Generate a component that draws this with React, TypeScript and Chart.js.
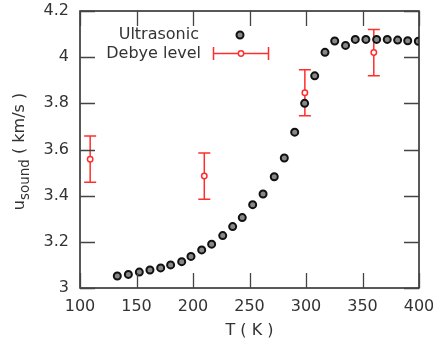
import React, { useEffect, useRef } from "react";
import { Chart, registerables } from "chart.js";

Chart.register(...registerables);

// Ultrasonic data
const ultraT = [133, 142.8, 152.5, 161.9, 171.4, 180.2, 190, 198.2, 207.7, 216.5, 226.3, 235.1, 243.6, 252.8, 262, 271.9, 280.8, 290, 298.8, 307.7, 316.8, 325.4, 335, 343.6, 353, 362.5, 371.9, 381.1, 390, 399.4];
const ultraU = [3.052, 3.059, 3.069, 3.078, 3.087, 3.1, 3.114, 3.137, 3.165, 3.19, 3.227, 3.266, 3.305, 3.361, 3.407, 3.482, 3.563, 3.675, 3.8, 3.919, 4.021, 4.07, 4.051, 4.077, 4.077, 4.077, 4.077, 4.074, 4.071, 4.069];

// Debye level data
const debyeT = [109, 210, 299, 360];
const debyeU = [3.558, 3.485, 3.846, 4.02];
const debyeErr = [0.1, 0.1, 0.1, 0.1];

const xTicks = [100, 150, 200, 250, 300, 350, 400];
const yTicks = [3, 3.2, 3.4, 3.6, 3.8, 4, 4.2];

const seriesNames = ["Ultrasonic", "Debye level"];
const xTitle = "T ( K )";
const yTitleMain = "u";
const yTitleSub = "sound";
const yTitleRest = " ( km/s )";

const FONT = "'DejaVu Sans', sans-serif";
const RED = "rgb(255,45,45)";
const TEXT = "#333";

export default function App() {
  const ref = useRef<HTMLCanvasElement | null>(null);

  useEffect(() => {
    if (!ref.current) return;

    const decor = {
      id: "decor",
      beforeDatasetsDraw(chart: any) {
        const ctx = chart.ctx;
        const xs = chart.scales.x;
        const ys = chart.scales.y;
        ctx.save();
        ctx.strokeStyle = RED;
        ctx.lineWidth = 1.5;
        debyeT.forEach((t, i) => {
          const px = xs.getPixelForValue(t);
          const top = ys.getPixelForValue(debyeU[i] + debyeErr[i]);
          const bot = ys.getPixelForValue(debyeU[i] - debyeErr[i]);
          ctx.beginPath();
          ctx.moveTo(px, top);
          ctx.lineTo(px, bot);
          ctx.moveTo(px - 6, top);
          ctx.lineTo(px + 6, top);
          ctx.moveTo(px - 6, bot);
          ctx.lineTo(px + 6, bot);
          ctx.stroke();
        });
        ctx.restore();
      },
      afterDraw(chart: any) {
        const ctx = chart.ctx;
        const a = chart.chartArea;
        const xs = chart.scales.x;
        const ys = chart.scales.y;
        ctx.save();
        // frame
        ctx.strokeStyle = "#222";
        ctx.lineWidth = 1.5;
        ctx.strokeRect(a.left, a.top, a.right - a.left, a.bottom - a.top);
        // inward ticks
        ctx.strokeStyle = "#444";
        ctx.lineWidth = 1.3;
        const L = 15;
        ctx.beginPath();
        xTicks.forEach((v) => {
          const px = Math.round(xs.getPixelForValue(v)) + 0.5;
          ctx.moveTo(px, a.bottom);
          ctx.lineTo(px, a.bottom - L);
          ctx.moveTo(px, a.top);
          ctx.lineTo(px, a.top + L);
        });
        yTicks.forEach((v) => {
          const py = Math.round(ys.getPixelForValue(v)) + 0.5;
          ctx.moveTo(a.left, py);
          ctx.lineTo(a.left + L, py);
          ctx.moveTo(a.right, py);
          ctx.lineTo(a.right - L, py);
        });
        ctx.stroke();

        // legend
        ctx.fillStyle = TEXT;
        ctx.font = `16px ${FONT}`;
        ctx.textAlign = "right";
        ctx.textBaseline = "middle";
        ctx.fillText(seriesNames[0], 199, 35);
        ctx.fillText(seriesNames[1], 201, 54);
        // ultrasonic marker
        ctx.beginPath();
        ctx.arc(240, 35, 3.5, 0, Math.PI * 2);
        ctx.fillStyle = "#888";
        ctx.fill();
        ctx.strokeStyle = "#111";
        ctx.lineWidth = 2;
        ctx.stroke();
        // debye marker with horizontal error bar
        ctx.strokeStyle = RED;
        ctx.lineWidth = 1.5;
        ctx.beginPath();
        ctx.moveTo(213.5, 53.5);
        ctx.lineTo(268.5, 53.5);
        ctx.moveTo(213.5, 47);
        ctx.lineTo(213.5, 60);
        ctx.moveTo(268.5, 47);
        ctx.lineTo(268.5, 60);
        ctx.stroke();
        ctx.beginPath();
        ctx.arc(241, 53.5, 2.7, 0, Math.PI * 2);
        ctx.fillStyle = "#fff";
        ctx.fill();
        ctx.stroke();

        // x title
        ctx.fillStyle = TEXT;
        ctx.font = `16px ${FONT}`;
        ctx.textAlign = "center";
        ctx.textBaseline = "middle";
        ctx.fillText(xTitle, (a.left + a.right) / 2, 331);

        // y title with subscript
        ctx.translate(23.5, (a.top + a.bottom) / 2 + 2);
        ctx.rotate(-Math.PI / 2);
        ctx.textAlign = "left";
        ctx.textBaseline = "alphabetic";
        const mainFont = `16px ${FONT}`;
        const subFont = `13.5px ${FONT}`;
        ctx.font = mainFont;
        const w1 = ctx.measureText(yTitleMain).width;
        const w3 = ctx.measureText(yTitleRest).width;
        ctx.font = subFont;
        const w2 = ctx.measureText(yTitleSub).width;
        let x0 = -(w1 + w2 + w3) / 2;
        ctx.font = mainFont;
        ctx.fillText(yTitleMain, x0, 0);
        x0 += w1;
        ctx.font = subFont;
        ctx.fillText(yTitleSub, x0, 5.5);
        x0 += w2;
        ctx.font = mainFont;
        ctx.fillText(yTitleRest, x0, 0);
        ctx.restore();
      },
    };

    const chart = new Chart(ref.current, {
      type: "scatter",
      data: {
        datasets: [
          {
            label: seriesNames[0],
            data: ultraT.map((t, i) => ({ x: t, y: ultraU[i] })),
            pointRadius: 3.5,
            pointHoverRadius: 3.5,
            pointBorderWidth: 2,
            pointBackgroundColor: "#888",
            pointBorderColor: "#111",
            showLine: false,
          },
          {
            label: seriesNames[1],
            data: debyeT.map((t, i) => ({ x: t, y: debyeU[i] })),
            pointRadius: 2.7,
            pointHoverRadius: 2.7,
            pointBorderWidth: 1.5,
            pointBackgroundColor: "#fff",
            pointBorderColor: RED,
            showLine: false,
          },
        ],
      },
      options: {
        responsive: false,
        animation: false,
        devicePixelRatio: 1,
        layout: { padding: { top: 11, right: 14, left: 0, bottom: 0 } },
        plugins: {
          legend: { display: false },
          tooltip: { enabled: false },
          title: { display: false },
        },
        scales: {
          x: {
            type: "linear",
            min: 100,
            max: 400,
            afterBuildTicks: (s: any) => {
              s.ticks = xTicks.map((v) => ({ value: v }));
            },
            afterFit: (s: any) => {
              s.height = 58;
              s.paddingLeft = 0;
              s.paddingRight = 0;
            },
            grid: { display: false, drawTicks: false },
            border: { display: false },
            ticks: {
              padding: 9,
              color: TEXT,
              font: { family: FONT, size: 16 },
              maxRotation: 0,
              callback: (v: any) => String(v),
            },
          },
          y: {
            type: "linear",
            min: 3,
            max: 4.2,
            afterBuildTicks: (s: any) => {
              s.ticks = yTicks.map((v) => ({ value: v }));
            },
            afterFit: (s: any) => {
              s.width = 80;
              s.paddingTop = 0;
              s.paddingBottom = 0;
            },
            grid: { display: false, drawTicks: false },
            border: { display: false },
            ticks: {
              padding: 11,
              color: TEXT,
              font: { family: FONT, size: 16 },
              callback: (v: any) => String(Math.round(Number(v) * 10) / 10),
            },
          },
        },
      },
      plugins: [decor],
    });

    return () => chart.destroy();
  }, []);

  return (
    <div style={{ position: "absolute", left: 0, top: 0, width: 433, height: 346, background: "#fff" }}>
      <canvas ref={ref} width={433} height={346} />
    </div>
  );
}
